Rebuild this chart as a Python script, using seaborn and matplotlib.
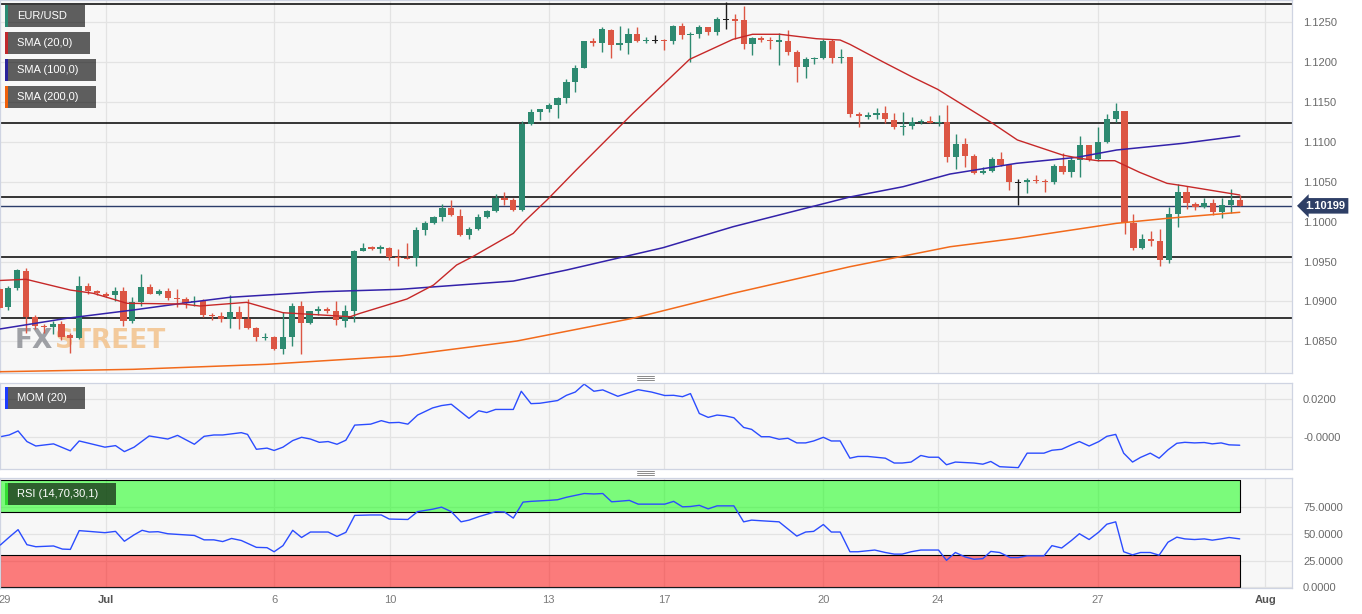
import numpy as np
import seaborn as sns
import matplotlib.pyplot as plt
import matplotlib.transforms as mtransforms
from matplotlib.patches import Rectangle
from matplotlib.lines import Line2D

# 4h candles, EUR/USD (index = candle number)
opens = [1.09152, 1.08930, 1.09165, 1.09385, 1.08809, 1.08696, 1.08676, 1.08717, 1.08575, 1.08538,
         1.09194, 1.09131, 1.09097, 1.09077, 1.09131, 1.08758, 1.08989, 1.09185, 1.09097, 1.09131,
         1.09047, 1.09031, 1.08989, 1.09009, 1.08830, 1.08817, 1.08776, 1.08868, 1.08780, 1.08667,
         1.08538, 1.08550, 1.08404, 1.08554, 1.08947, 1.08726, 1.08884, 1.08901, 1.08876, 1.08758,
         1.08876, 1.09636, 1.09679, 1.09661, 1.09666, 1.09561, 1.09548, 1.09541, 1.09896, 1.09980,
         1.10055, 1.10168, 1.10075, 1.09833, 1.09912, 1.10063, 1.10134, 1.10293, 1.10272, 1.10147,
         1.11225, 1.11372, 1.11409, 1.11460, 1.11555, 1.11748, 1.11927, 1.12262, 1.12237, 1.12408,
         1.12219, 1.12245, 1.12354, 1.12262, 1.12266, 1.12278, 1.12270, 1.12454, 1.12341, 1.12354,
         1.12438, 1.12379, 1.12533, 1.12538, 1.12529, 1.12228, 1.12303, 1.12282, 1.12257, 1.12270,
         1.12128, 1.11944, 1.12036, 1.12049, 1.12262, 1.12053, 1.12069, 1.11347, 1.11317, 1.11334,
         1.11359, 1.11275, 1.11187, 1.11204, 1.11250, 1.11263, 1.11241, 1.11254, 1.10815, 1.10974,
         1.10824, 1.10607, 1.10632, 1.10782, 1.10707, 1.10489, 1.10498, 1.10523, 1.10514, 1.10498,
         1.10698, 1.10627, 1.10774, 1.10962, 1.10782, 1.11003, 1.11284, 1.11384, 1.09980, 1.09670,
         1.09779, 1.09762, 1.09520, 1.10093, 1.10376, 1.10222, 1.10180, 1.10231, 1.10122, 1.10206,
         1.10272]
highs = [1.09181, 1.09194, 1.09411, 1.09416, 1.08834, 1.08717, 1.08751, 1.08751, 1.08608, 1.09319,
         1.09227, 1.09143, 1.09115, 1.09177, 1.09177, 1.09052, 1.09340, 1.09215, 1.09152, 1.09165,
         1.09152, 1.09059, 1.09068, 1.09031, 1.08851, 1.08871, 1.09081, 1.08947, 1.09027, 1.08680,
         1.08600, 1.08567, 1.08868, 1.08977, 1.09002, 1.08880, 1.08947, 1.08926, 1.09002, 1.08959,
         1.09645, 1.09729, 1.09695, 1.09704, 1.09686, 1.09654, 1.09729, 1.09930, 1.10012, 1.10071,
         1.10222, 1.10272, 1.10155, 1.09937, 1.10096, 1.10147, 1.10347, 1.10369, 1.10293, 1.11259,
         1.11409, 1.11417, 1.11485, 1.11567, 1.11786, 1.11961, 1.12270, 1.12300, 1.12438, 1.12413,
         1.12454, 1.12433, 1.12438, 1.12312, 1.12345, 1.12295, 1.12463, 1.12495, 1.12375, 1.12470,
         1.12438, 1.12571, 1.12759, 1.12604, 1.12705, 1.12312, 1.12329, 1.12320, 1.12370, 1.12400,
         1.12153, 1.12061, 1.12061, 1.12287, 1.12287, 1.12169, 1.12069, 1.11379, 1.11379, 1.11422,
         1.11451, 1.11367, 1.11379, 1.11309, 1.11292, 1.11325, 1.11338, 1.11467, 1.11100, 1.11046,
         1.10849, 1.10690, 1.10807, 1.10874, 1.10715, 1.10532, 1.10544, 1.10582, 1.10539, 1.10723,
         1.10858, 1.10815, 1.11075, 1.10962, 1.11191, 1.11350, 1.11492, 1.11384, 1.10096, 1.09842,
         1.09887, 1.09912, 1.10180, 1.10473, 1.10448, 1.10251, 1.10293, 1.10281, 1.10293, 1.10406,
         1.10335]
lows = [1.08905, 1.08893, 1.09143, 1.08604, 1.08651, 1.08600, 1.08595, 1.08516, 1.08350, 1.08525,
        1.09093, 1.09081, 1.09052, 1.09005, 1.08696, 1.08726, 1.08947, 1.09090, 1.09081, 1.09018,
        1.08934, 1.08921, 1.08943, 1.08809, 1.08767, 1.08746, 1.08671, 1.08651, 1.08651, 1.08508,
        1.08516, 1.08391, 1.08337, 1.08441, 1.08337, 1.08713, 1.08830, 1.08851, 1.08705, 1.08676,
        1.08746, 1.09636, 1.09645, 1.09611, 1.09520, 1.09448, 1.09528, 1.09448, 1.09829, 1.09971,
        1.10012, 1.10071, 1.09824, 1.09779, 1.09896, 1.10045, 1.10118, 1.10213, 1.10138, 1.10138,
        1.11209, 1.11275, 1.11376, 1.11297, 1.11492, 1.11623, 1.11927, 1.12203, 1.12132, 1.12049,
        1.12153, 1.12103, 1.12253, 1.12245, 1.12237, 1.12153, 1.12224, 1.12287, 1.12006, 1.12303,
        1.12337, 1.12345, 1.12413, 1.12287, 1.12162, 1.12087, 1.12253, 1.12162, 1.11961, 1.12090,
        1.11752, 1.11798, 1.11977, 1.12036, 1.11986, 1.11986, 1.11317, 1.11184, 1.11288, 1.11288,
        1.11241, 1.11166, 1.11083, 1.11159, 1.11229, 1.11234, 1.11196, 1.10745, 1.10657, 1.10690,
        1.10598, 1.10598, 1.10627, 1.10698, 1.10397, 1.10206, 1.10356, 1.10481, 1.10376, 1.10473,
        1.10598, 1.10564, 1.10564, 1.10765, 1.10757, 1.10983, 1.11250, 1.09842, 1.09645, 1.09661,
        1.09695, 1.09444, 1.09478, 1.09930, 1.10155, 1.10147, 1.10168, 1.10084, 1.10050, 1.10105,
        1.10199]
closes = [1.08921, 1.09165, 1.09394, 1.08809, 1.08692, 1.08676, 1.08717, 1.08558, 1.08541, 1.09194,
          1.09131, 1.09102, 1.09072, 1.09131, 1.08755, 1.08989, 1.09185, 1.09097, 1.09131, 1.09043,
          1.09031, 1.08984, 1.09009, 1.08830, 1.08817, 1.08780, 1.08868, 1.08776, 1.08671, 1.08550,
          1.08554, 1.08404, 1.08550, 1.08947, 1.08726, 1.08876, 1.08901, 1.08880, 1.08767, 1.08876,
          1.09632, 1.09666, 1.09661, 1.09679, 1.09554, 1.09545, 1.09532, 1.09896, 1.09980, 1.10055,
          1.10168, 1.10084, 1.09833, 1.09912, 1.10055, 1.10134, 1.10297, 1.10272, 1.10147, 1.11221,
          1.11372, 1.11409, 1.11460, 1.11551, 1.11748, 1.11927, 1.12262, 1.12237, 1.12413, 1.12219,
          1.12241, 1.12354, 1.12262, 1.12275, 1.12266, 1.12262, 1.12454, 1.12345, 1.12357, 1.12438,
          1.12379, 1.12542, 1.12533, 1.12520, 1.12228, 1.12300, 1.12278, 1.12266, 1.12275, 1.12128,
          1.11940, 1.12036, 1.12049, 1.12262, 1.12056, 1.12069, 1.11347, 1.11322, 1.11342, 1.11359,
          1.11284, 1.11191, 1.11204, 1.11250, 1.11263, 1.11241, 1.11254, 1.10815, 1.10974, 1.10824,
          1.10607, 1.10632, 1.10782, 1.10711, 1.10498, 1.10489, 1.10523, 1.10506, 1.10498, 1.10698,
          1.10627, 1.10774, 1.10962, 1.10774, 1.11003, 1.11284, 1.11384, 1.09980, 1.09670, 1.09779,
          1.09762, 1.09520, 1.10093, 1.10376, 1.10231, 1.10180, 1.10231, 1.10122, 1.10206, 1.10272,
          1.10199]

# moving averages, read as line vertices (candle index, price)
sma20_idx = [0, 3.0, 8.0, 10.6, 14.4, 20.7, 22.6, 27.9, 32.0, 39.6,
             40.7, 46.0, 49.0, 51.6, 53.4, 58.0, 59.1, 61.8, 65.1, 71.5,
             77.9, 82.8, 85.0, 88.1, 92.2, 94.9, 96.0, 99.7, 103.1, 105.9,
             112.1, 114.9, 120.0, 121.9, 124.0, 125.9, 128.7, 131.8, 133.6, 140]
sma20_val = [1.09263, 1.09278, 1.09143, 1.09102, 1.08977, 1.08968, 1.08943, 1.08989, 1.08859, 1.08809,
             1.08851, 1.09031, 1.09206, 1.09457, 1.09561, 1.09854, 1.09987, 1.10272, 1.10648, 1.11359,
             1.12036, 1.12287, 1.12350, 1.12350, 1.12295, 1.12278, 1.12224, 1.12006, 1.11811, 1.11660,
             1.11234, 1.11025, 1.10836, 1.10795, 1.10765, 1.10765, 1.10619, 1.10481, 1.10451, 1.10335]
sma100_idx = [0, 7.6, 15.1, 21.1, 26.0, 36.2, 45.2, 58.0, 64.0, 74.9,
              82.8, 96.0, 102.0, 107.3, 114.8, 121.6, 126.1, 133.6, 140]
sma100_val = [1.08654, 1.08789, 1.08893, 1.08984, 1.09052, 1.09122, 1.09152, 1.09256, 1.09394, 1.09674,
              1.09937, 1.10310, 1.10439, 1.10598, 1.10732, 1.10807, 1.10899, 1.10983, 1.11075]
sma200_idx = [0, 15.1, 30.2, 45.2, 58.4, 71.5, 82.8, 96.0, 107.3, 114.8, 126.1, 131.8, 140]
sma200_val = [1.08119, 1.08149, 1.08212, 1.08316, 1.08504, 1.08789, 1.09102, 1.09436, 1.09686, 1.09792,
              1.09980, 1.10042, 1.10118]

# momentum (20)
mom_idx = [0.1, 1.1, 2.1, 3.1, 4.1, 6.1, 8.0, 9.0, 10.1, 11.9,
           13.1, 14.1, 15.2, 16.9, 19.0, 20.1, 22.0, 23.1, 24.2, 25.2,
           27.3, 28.0, 29.0, 30.2, 31.0, 32.0, 33.1, 34.1, 35.1, 36.1,
           37.1, 38.1, 39.1, 40.1, 41.9, 43.1, 44.0, 45.1, 46.1, 47.2,
           48.9, 49.9, 51.0, 53.0, 54.1, 55.0, 56.0, 58.0, 58.9, 60.0,
           61.0, 63.0, 64.0, 65.0, 66.0, 67.1, 68.1, 69.8, 72.1, 73.6,
           75.1, 76.1, 77.1, 78.0, 79.0, 80.0, 81.0, 81.9, 82.9, 84.0,
           84.9, 86.0, 86.9, 88.0, 89.0, 90.0, 91.0, 91.9, 93.0, 93.9,
           94.9, 96.0, 96.9, 98.0, 100.0, 101.0, 101.9, 102.9, 104.0, 104.9,
           106.0, 106.9, 107.9, 110.0, 111.0, 111.9, 112.9, 115.0, 116.0, 117.9,
           118.8, 119.9, 121.0, 121.9, 123.0, 124.1, 125.0, 126.0, 126.9, 127.9,
           128.8, 129.9, 130.9, 131.9, 132.9, 133.8, 134.9, 136.0, 136.9, 137.9,
           138.8, 140.0]
mom_val = [0.0003, 0.0012, 0.0033, -0.0022, -0.0045, -0.0034, -0.0070, -0.0019, -0.0031, -0.0051,
           -0.0043, -0.0074, -0.0051, 0.0007, -0.0009, 0.0010, -0.0036, 0.0005, 0.0012, 0.0012,
           0.0024, 0.0015, -0.0062, -0.0056, -0.0068, -0.0051, -0.0017, 0.0000, -0.0009, -0.0026,
           -0.0022, -0.0036, -0.0015, 0.0063, 0.0068, 0.0086, 0.0075, 0.0077, 0.0068, 0.0115,
           0.0152, 0.0164, 0.0171, 0.0098, 0.0137, 0.0128, 0.0144, 0.0144, 0.0238, 0.0174,
           0.0176, 0.0190, 0.0217, 0.0234, 0.0275, 0.0238, 0.0245, 0.0212, 0.0246, 0.0234,
           0.0216, 0.0217, 0.0210, 0.0226, 0.0123, 0.0103, 0.0115, 0.0111, 0.0101, 0.0051,
           0.0041, 0.0003, 0.0003, -0.0010, -0.0005, -0.0029, -0.0029, -0.0019, 0.0000, -0.0019,
           -0.0019, -0.0108, -0.0099, -0.0099, -0.0108, -0.0133, -0.0133, -0.0128, -0.0094, -0.0103,
           -0.0103, -0.0142, -0.0128, -0.0133, -0.0139, -0.0125, -0.0152, -0.0157, -0.0082, -0.0082,
           -0.0067, -0.0062, -0.0039, -0.0022, -0.0045, -0.0022, 0.0005, 0.0015, -0.0082, -0.0128,
           -0.0104, -0.0082, -0.0108, -0.0065, -0.0031, -0.0026, -0.0029, -0.0027, -0.0034, -0.0029,
           -0.0039, -0.0041]

# RSI (14)
rsi_idx = [0.1, 1.1, 2.1, 3.1, 4.1, 6.1, 7.1, 8.0, 9.0, 10.1,
           11.9, 13.1, 14.1, 15.2, 16.1, 16.9, 17.9, 19.0, 20.1, 22.0,
           23.1, 24.2, 25.2, 26.2, 27.3, 29.0, 30.2, 31.0, 32.0, 33.1,
           34.1, 35.1, 37.1, 38.1, 39.1, 40.1, 41.9, 43.1, 44.0, 46.1,
           47.2, 48.9, 49.9, 51.0, 52.1, 53.0, 54.1, 56.0, 57.0, 58.0,
           59.1, 60.0, 62.0, 63.0, 64.0, 66.0, 67.1, 68.1, 69.1, 69.8,
           71.1, 72.1, 75.1, 76.1, 77.1, 78.0, 79.0, 80.0, 81.0, 82.9,
           84.0, 84.9, 86.0, 88.0, 90.0, 91.0, 91.9, 93.0, 93.9, 94.9,
           96.0, 96.9, 98.8, 100.0, 101.0, 101.9, 102.9, 104.0, 106.0, 106.9,
           107.9, 109.0, 110.0, 111.0, 111.9, 112.9, 114.1, 115.0, 116.0, 117.9,
           118.8, 119.9, 121.0, 121.9, 123.0, 124.1, 125.0, 126.0, 126.9, 127.9,
           128.8, 129.9, 130.9, 131.9, 132.9, 133.8, 134.9, 136.0, 136.9, 137.9,
           138.8, 140.0]
rsi_val = [39.5, 46.8, 53.8, 39.8, 37.9, 38.6, 35.7, 35.4, 52.9, 52.2,
           51.0, 52.2, 43.0, 49.0, 53.2, 51.6, 51.9, 50.0, 49.4, 48.4,
           44.3, 44.3, 42.7, 45.6, 43.7, 37.3, 37.0, 33.2, 38.9, 53.2,
           46.5, 51.6, 51.6, 47.5, 51.3, 67.1, 67.5, 67.5, 63.7, 63.3,
           70.6, 72.9, 74.8, 70.6, 61.1, 62.7, 65.9, 70.6, 70.3, 64.6,
           79.5, 80.2, 81.1, 81.7, 84.0, 87.5, 87.1, 87.5, 79.8, 80.2,
           81.1, 77.6, 77.6, 80.2, 75.1, 75.4, 76.5, 73.2, 76.0, 76.0,
           61.1, 62.7, 62.1, 61.1, 47.8, 51.6, 52.2, 58.6, 51.6, 51.6,
           33.2, 33.2, 34.8, 32.5, 31.0, 31.0, 33.2, 34.8, 34.8, 25.2,
           32.5, 28.4, 26.2, 26.8, 33.5, 32.5, 27.8, 27.8, 29.4, 29.4,
           38.9, 36.7, 43.7, 50.0, 44.6, 51.6, 58.9, 61.1, 33.2, 30.3,
           32.5, 32.5, 30.0, 42.1, 46.8, 45.2, 44.6, 45.2, 44.0, 45.2,
           46.5, 45.2]

levels = [1.12736, 1.11234, 1.10306, 1.09557, 1.08792]
last_price = 1.10199
price_ticks = [1.085, 1.090, 1.095, 1.100, 1.105, 1.110, 1.115, 1.120, 1.125]
day_pos = [0.6, 12.0, 31.0, 44.1, 62.0, 75.0, 93.0, 105.9, 124.0, 142.9]
day_lbl = ['29', 'Jul', '6', '10', '13', '17', '20', '24', '27', 'Aug']

GREEN = '#2e8a71'
RED = '#dc5644'
BG = '#f7f7f7'
GRID = '#e3e3e3'
EDGE = '#cfd4e2'
TXT = '#6a6a6a'

sns.set_style('white')
plt.rcParams['font.family'] = ['Liberation Sans', 'DejaVu Sans']

W, H = 1362, 614
fig = plt.figure(figsize=(W / 100, H / 100), dpi=100, facecolor='white')


def fx(px):
    return px / W


def fy(py):
    return 1 - py / H


ax = fig.add_axes([0, fy(373), fx(1292), 373 / H])
ax_mom = fig.add_axes([0, fy(469), fx(1292), (469 - 382.5) / H])
ax_rsi = fig.add_axes([0, fy(588), fx(1292), (588 - 478.3) / H])

x_lim = (0.06, 145.9)
for a in (ax, ax_mom, ax_rsi):
    a.set_facecolor(BG)
    a.set_xlim(*x_lim)
    for s in a.spines.values():
        s.set_color(EDGE)
        s.set_linewidth(0.9)
    for p in day_pos[1:]:
        a.axvline(p, color=GRID, lw=0.9, zorder=0.5)
    a.yaxis.tick_right()
    a.tick_params(axis='y', length=0, pad=8, labelsize=8, labelcolor=TXT)
    a.grid(axis='y', color=GRID, lw=0.9)
    a.set_axisbelow(True)
    a.set_xticks([])

# ---- main price panel
o = np.array(opens); h = np.array(highs); l = np.array(lows); c = np.array(closes)
idx = np.arange(len(o))
col = np.where(c > o, GREEN, np.where(c < o, RED, '#1e1e1e'))
body_lo = np.minimum(o, c)
body_h = np.maximum(np.abs(c - o), 0.00013)

for lv in levels:
    ax.axhline(lv, color='black', lw=1.1, zorder=2)
ax.axhline(last_price, color='#2c3d6b', lw=1.0, zorder=2)

ax.vlines(idx, l, h, colors=col, linewidth=1.0, zorder=3)
ax.bar(idx, body_h, bottom=body_lo, width=0.7, color=col, linewidth=0, zorder=4)

sns.lineplot(x=sma200_idx, y=sma200_val, ax=ax, color='#f26a1b', linewidth=1.1,
             sort=False, estimator=None, zorder=5)
sns.lineplot(x=sma100_idx, y=sma100_val, ax=ax, color='#3322aa', linewidth=1.1,
             sort=False, estimator=None, zorder=5)
sns.lineplot(x=sma20_idx, y=sma20_val, ax=ax, color='#c62828', linewidth=1.0,
             sort=False, estimator=None, zorder=5)

ax.set_ylim(1.08103, 1.1278)
ax.set_yticks(price_ticks)
ax.set_yticklabels([f'{v:.4f}' for v in price_ticks])
ax.set_xlabel('')
ax.set_ylabel('')

# last price tag
tr = mtransforms.blended_transform_factory(ax.transAxes, ax.transData)
ax.text(1.0105, last_price, f'{last_price:.5f}', transform=tr, ha='left', va='center',
        color='white', fontsize=8, fontweight='bold', clip_on=False, zorder=10,
        bbox=dict(boxstyle='larrow,pad=0.25', fc='#2e3f66', ec='none'))

# watermark, sitting under the candles
wm_fx = ax.text(fx(15), fy(341), 'FX', transform=fig.transFigure, ha='left', va='center',
                fontsize=19, fontweight='bold', family=['Liberation Sans Narrow', 'DejaVu Sans'],
                color='#8f9197', alpha=0.85, zorder=1)
fig.canvas.draw()
fx_right = wm_fx.get_window_extent().x1 / W
ax.text(fx_right + 1 / W, fy(341), 'STREET', transform=fig.transFigure, ha='left', va='center',
        fontsize=19, fontweight='bold', family=['Liberation Sans Narrow', 'DejaVu Sans'],
        color='#f3c38c', alpha=0.85, zorder=1)

# ---- momentum panel
sns.lineplot(x=mom_idx, y=mom_val, ax=ax_mom, color='#2b4cff', linewidth=1.0,
             sort=False, estimator=None)
ax_mom.set_ylim(-0.01639, 0.02833)
ax_mom.set_yticks([0.0, 0.02])
ax_mom.set_yticklabels(['-0.0000', '0.0200'])
ax_mom.set_xlabel('')
ax_mom.set_ylabel('')

# ---- RSI panel
ax_rsi.fill_between([x_lim[0], 140], 70, 100, facecolor=(0, 1, 0, 0.5), edgecolor='black',
                    linewidth=0.8, zorder=1)
ax_rsi.fill_between([x_lim[0], 140], 0, 30, facecolor=(1, 0, 0, 0.5), edgecolor='black',
                    linewidth=0.8, zorder=1)
sns.lineplot(x=rsi_idx, y=rsi_val, ax=ax_rsi, color='#2b4cff', linewidth=1.0,
             sort=False, estimator=None, zorder=3)
ax_rsi.set_ylim(-0.6, 101.7)
ax_rsi.set_yticks([0, 25, 50, 75])
ax_rsi.set_yticklabels(['0.0000', '25.0000', '50.0000', '75.0000'])
ax_rsi.set_xlabel('')
ax_rsi.set_ylabel('')
ax_rsi.set_xticks(day_pos)
ax_rsi.set_xticklabels(day_lbl)
ax_rsi.tick_params(axis='x', length=0, pad=5, labelsize=8, labelcolor='#7a7a7a')
for t in ax_rsi.get_xticklabels():
    if t.get_text() in ('Jul', 'Aug'):
        t.set_fontweight('bold')
        t.set_color('#555555')


# ---- indicator tags
def tag(x1, y0, y1, label, stripe):
    fig.add_artist(Rectangle((fx(5), fy(y1)), fx(x1) - fx(5), (y1 - y0) / H,
                             transform=fig.transFigure, fc=(0, 0, 0, 0.62), ec='none', zorder=10))
    fig.add_artist(Rectangle((fx(5), fy(y1)), 3 / W, (y1 - y0) / H,
                             transform=fig.transFigure, fc=stripe, ec='none', zorder=11))
    fig.text(fx(17), fy((y0 + y1) / 2), label, color='white', fontsize=8,
             ha='left', va='center', zorder=12)


tag(85, 5, 27, 'EUR/USD', '#2a8a73')
tag(90, 32, 54, 'SMA (20,0)', '#c0282d')
tag(96, 59, 81, 'SMA (100,0)', '#2a229a')
tag(96, 86, 108, 'SMA (200,0)', '#f0600a')
tag(85, 387, 409, 'MOM (20)', '#1c3cff')
tag(116, 483, 505, 'RSI (14,70,30,1)', '#33dd33')

# panel drag handles
for base in (376, 471):
    for k in range(3):
        yy = fy(base + 2 * k)
        fig.add_artist(Line2D([fx(637), fx(654)], [yy, yy], color='#8a8a8a', lw=0.7))

fig.savefig('out.png', dpi=100, facecolor='white')
